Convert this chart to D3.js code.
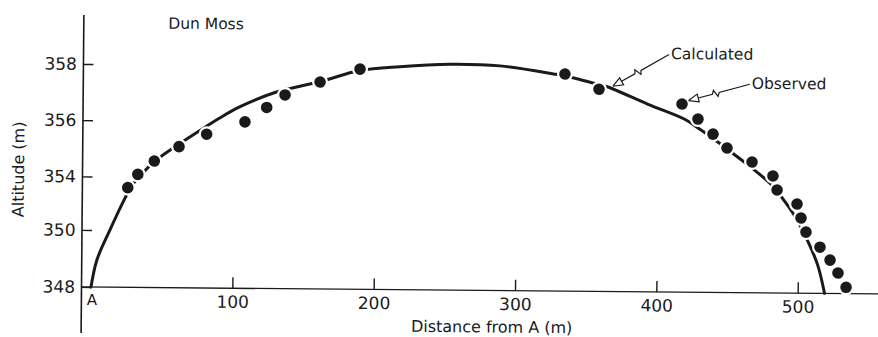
<!DOCTYPE html>
<html><head><meta charset="utf-8">
<script src="https://cdn.jsdelivr.net/npm/d3@7"></script>
<style>
body{margin:0;background:#fff}
svg{display:block}
text{font-family:"DejaVu Sans",sans-serif;fill:#1a1a1a}
</style></head><body>
<svg id="c" width="878" height="337"></svg>
<script>
// ---- data ----
const title = "Dun Moss";
const xTickValues = [100, 200, 300, 400, 500];
const yTickValues = [348, 350, 354, 356, 358];
const yTickLabels = ["348", "350", "354", "356", "358"];

// Calculated profile (distance m, altitude m)
const calcX = [0, 4, 13, 23.5, 28, 33, 44, 62, 81, 90, 104, 130, 161, 189, 217, 253, 288, 326, 334, 358, 364, 393, 419, 428, 439, 449, 467, 481, 489, 497, 507, 514, 519];
const calcY = [348, 348.95, 350, 352.4, 353.3, 353.95, 354.55, 355.2, 355.83, 356.12, 356.52, 357.06, 357.45, 357.85, 358.0, 358.1, 358.06, 357.79, 357.72, 357.43, 357.35, 356.74, 356.22, 355.93, 355.55, 355.18, 354.5, 353.8, 352.77, 351.58, 349.81, 348.99, 348.0];

// Observed points
const obsX = [25.4, 32.4, 44.0, 61.4, 80.9, 107.9, 123.2, 136.1, 160.8, 189.0, 334.0, 358.2, 417.0, 428.4, 439.1, 449.1, 466.9, 481.8, 484.8, 499.0, 501.9, 505.5, 515.5, 522.7, 528.4, 534.2];
const obsY = [353.19, 354.09, 354.57, 355.09, 355.54, 355.99, 356.51, 356.96, 357.43, 357.90, 357.79, 357.26, 356.76, 356.23, 355.70, 355.21, 354.72, 354.23, 353.44, 352.40, 351.36, 350.31, 349.62, 349.17, 348.72, 348.22];

// ---- scales ----
const x = d3.scaleLinear().domain([0, 500]).range([91, 797.7]);
const y = d3.scaleLinear().domain([348, 350, 354, 358]).range([287, 230, 176.5, 64]);

const svg = d3.select("#c");
const g = svg.append("g").attr("transform", "rotate(0.5,91,287)");
const ink = "#1a1a1a";
const axisX0 = 81.5;

// axis lines
g.append("line").attr("x1", axisX0).attr("x2", axisX0).attr("y1", 15).attr("y2", 333)
  .attr("stroke", ink).attr("stroke-width", 1.6);
g.append("line").attr("x1", axisX0).attr("x2", 900).attr("y1", y(348)).attr("y2", y(348))
  .attr("stroke", ink).attr("stroke-width", 1.4);

// x axis ticks
const xAxis = d3.axisBottom(x).tickValues(xTickValues).tickSize(-11).tickPadding(7.5);
const gx = g.append("g").attr("transform", `translate(0,${y(348)})`).call(xAxis);
gx.select(".domain").remove();
gx.selectAll(".tick line").attr("stroke", ink).attr("stroke-width", 1.4);
gx.selectAll(".tick text").style("font-size", "17px").attr("fill", ink);

// y axis ticks
const yAxis = d3.axisLeft(y).tickValues(yTickValues).tickFormat((d, i) => yTickLabels[i]).tickSize(-10).tickPadding(6.5);
const gy = g.append("g").attr("transform", `translate(${axisX0},0)`).call(yAxis);
gy.select(".domain").remove();
gy.selectAll(".tick line").attr("stroke", ink).attr("stroke-width", 1.4);
gy.selectAll(".tick text").style("font-size", "17px").attr("fill", ink);

// labels
g.append("text").attr("x", x(0) + 1).attr("y", 305).attr("text-anchor", "middle")
  .style("font-size", "15px").text("A");
g.append("text").attr("x", 492).attr("y", 329).attr("text-anchor", "middle")
  .style("font-size", "16px").text("Distance from A (m)");
g.append("text").attr("transform", "translate(23,170) rotate(-90)").attr("text-anchor", "middle")
  .style("font-size", "16px").text("Altitude (m)");
g.append("text").attr("x", 166).attr("y", 28).style("font-size", "15.5px").text(title);

// calculated curve
const line = d3.line().x((d, i) => x(calcX[i])).y((d, i) => y(calcY[i])).curve(d3.curveCatmullRom.alpha(0.5));
g.append("path").datum(calcX).attr("d", line).attr("fill", "none")
  .attr("stroke", ink).attr("stroke-width", 3).attr("stroke-linecap", "round");

// observed dots: white halos then dots
g.append("g").selectAll("circle").data(obsX).join("circle")
  .attr("cx", (d) => x(d)).attr("cy", (d, i) => y(obsY[i])).attr("r", 8).attr("fill", "#fff");
g.append("g").selectAll("circle").data(obsX).join("circle")
  .attr("cx", (d) => x(d)).attr("cy", (d, i) => y(obsY[i])).attr("r", 5.8).attr("fill", ink);

// annotation arrows
function arrow(S, T) {
  const dx = T[0] - S[0], dy = T[1] - S[1], L = Math.hypot(dx, dy);
  const d = [dx / L, dy / L], n = [-d[1], d[0]];
  const p = (P, a, b) => [P[0] + d[0] * a + n[0] * b, P[1] + d[1] * a + n[1] * b];
  const A = p(S, L * 0.5, 0);
  const pts = [S, A, p(A, 2, -3.5), p(A, 5, 3.5), p(A, 7, 0), p(T, -10, 0)];
  g.append("path").attr("d", d3.line()(pts)).attr("fill", "none").attr("stroke", ink).attr("stroke-width", 1.2);
  g.append("path").attr("d", d3.line()([T, p(T, -10, 4), p(T, -10, -4), T]))
    .attr("fill", "#fff").attr("stroke", ink).attr("stroke-width", 1.2).attr("stroke-linejoin", "miter");
}
arrow([667, 49.5], [x(368), y(357.3) - 2]);
g.append("text").attr("x", 669).attr("y", 54).style("font-size", "15.5px").text("Calculated");
arrow([748, 78.5], [x(obsX[12]) + 6.5, y(obsY[12]) - 3.5]);
g.append("text").attr("x", 750).attr("y", 83).style("font-size", "15.5px").text("Observed");
</script>
</body></html>
